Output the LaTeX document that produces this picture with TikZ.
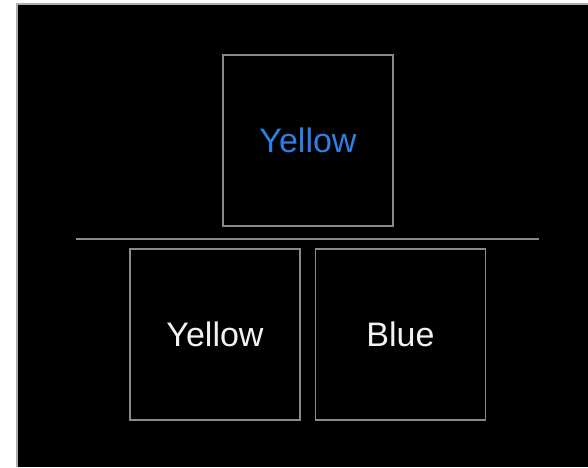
\documentclass[tikz,border=0pt]{standalone}
\usepackage{fontspec}
\setmainfont{Liberation Sans}
\definecolor{framegray}{HTML}{8A8A8A}
\definecolor{cardblue}{HTML}{2A80E4}
\definecolor{cardwhite}{HTML}{F2F2F2}
\begin{document}
\begin{tikzpicture}[x=1pt,y=-1pt,
  card/.style={draw=framegray, line width=1.4pt, minimum width=170pt,
    minimum height=171pt, inner sep=0pt, text height=24.5pt, text depth=0pt,
    font=\fontsize{34}{40}\selectfont},
  divider/.style={draw=framegray, line width=2pt}]
  % page and dark stage
  \useasboundingbox (0,0) rectangle (588,467);
  \fill[white] (0,0) rectangle (588,467);
  \fill[black] (17,4) rectangle (588,467);
  \draw[framegray!70, line width=1.2pt] (17,467) -- (17,4) -- (588,4);
  % cards
  \node[card, text=cardblue] (top) at (308,140.5) {Yellow};
  \node[card, text=cardwhite] (left) at (215,334.5) {Yellow};
  \node[card, text=cardwhite] (right) at (400.5,334.5) {Blue};
  % divider line
  \coordinate (dl) at (76,239);
  \coordinate (dr) at (539,239);
  \draw[divider] (dl) -- (dr);
\end{tikzpicture}
\end{document}
